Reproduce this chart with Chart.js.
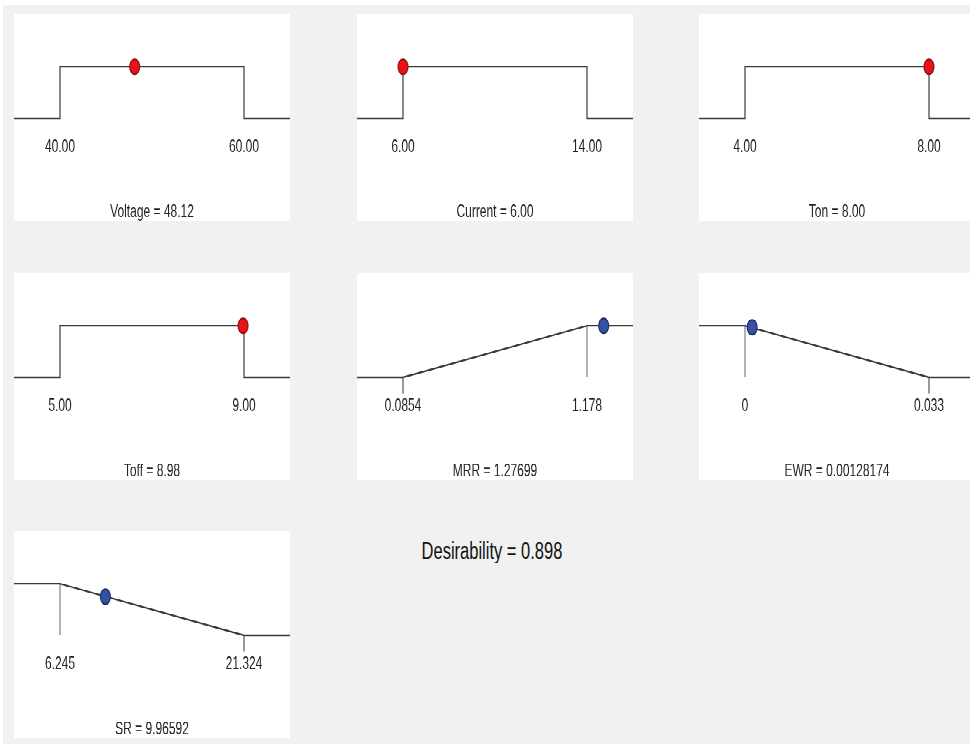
<!DOCTYPE html>
<html lang="en">

<head>
    <meta charset="UTF-8" />
    <title>Optimization plot - composite desirability</title>
    <script src="https://cdn.jsdelivr.net/npm/chart.js"></script>
    <style>
        html, body { margin: 0; padding: 0; }
        body { width: 970px; height: 744px; overflow: hidden; position: relative; background: #fff;
               font-family: "Liberation Sans", Arial, sans-serif; }
        #fondo { position: absolute; left: 3px; top: 5px; right: 0; bottom: 0; background: #f0f1f0; }
        /* the original figure is stretched vertically, so every panel is drawn flat and scaled */
        .panel { position: absolute; width: 276px; height: 138px; background: #fff;
                 transform: scaleY(1.5); transform-origin: 0 0; }
        #desirability { position: absolute; left: 392px; top: 536px; width: 200px; text-align: center;
                        font-size: 16.5px; line-height: 18px; color: #111;
                        transform: scaleY(1.5); transform-origin: 0 0; }
    </style>
</head>

<body>
    <div id="fondo"></div>
    <div id="desirability">Desirability = 0.898</div>

    <script>
        // one entry per panel: Voltage, Current, Ton, Toff, MRR, EWR, SR
        const names = ["Voltage", "Current", "Ton", "Toff", "MRR", "EWR", "SR"];
        const goals = ["range", "range", "range", "range", "max", "min", "min"];
        const lowLimits = [40, 6, 4, 5, 0.0854, 0, 6.245];
        const highLimits = [60, 14, 8, 9, 1.178, 0.033, 21.324];
        const lowLabels = ["40.00", "6.00", "4.00", "5.00", "0.0854", "0", "6.245"];
        const highLabels = ["60.00", "14.00", "8.00", "9.00", "1.178", "0.033", "21.324"];
        const settings = [48.12, 6.00, 8.00, 8.98, 1.27699, 0.00128174, 9.96592];
        const settingLabels = ["48.12", "6.00", "8.00", "8.98", "1.27699", "0.00128174", "9.96592"];
        const markerHeights = [1, 1, 1, 1, 1, 0.97, 0.75];

        const panelLeft = [14, 357, 699, 14, 357, 699, 14];
        const panelTop = [14, 14, 14, 273, 273, 273, 531];

        const yMin = -0.312, yMax = 2.02;

        function curve(i) {
            const lo = lowLimits[i], hi = highLimits[i];
            const pad = (hi - lo) / 4;
            const a = lo - pad, b = hi + pad;
            if (goals[i] === "range") {
                return { line: [{ x: a, y: 0 }, { x: lo, y: 0 }, { x: lo, y: 1 }, { x: hi, y: 1 }, { x: hi, y: 0 }, { x: b, y: 0 }] };
            }
            if (goals[i] === "max") {
                return {
                    line: [{ x: a, y: 0 }, { x: lo, y: 0 }, { x: hi, y: 1 }, { x: b, y: 1 }],
                    drop: [{ x: hi, y: 1 }, { x: hi, y: 0 }],
                    tick: [{ x: lo, y: 0 }, { x: lo, y: yMin }]
                };
            }
            return {
                line: [{ x: a, y: 1 }, { x: lo, y: 1 }, { x: hi, y: 0 }, { x: b, y: 0 }],
                drop: [{ x: lo, y: 1 }, { x: lo, y: 0 }],
                tick: [{ x: hi, y: 0 }, { x: hi, y: yMin }]
            };
        }

        function drawPanel(i) {
            const box = document.createElement("div");
            box.className = "panel";
            box.style.left = panelLeft[i] + "px";
            box.style.top = panelTop[i] + "px";
            const canvas = document.createElement("canvas");
            canvas.width = 276;
            canvas.height = 138;
            box.appendChild(canvas);
            document.body.appendChild(box);

            const lo = lowLimits[i], hi = highLimits[i];
            const pad = (hi - lo) / 4;
            const c = curve(i);
            const isFactor = i < 4;

            const datasets = [{
                data: [{ x: settings[i], y: markerHeights[i] }],
                showLine: false,
                pointRadius: 5,
                pointBackgroundColor: isFactor ? "#e8121b" : "#3451a3",
                pointBorderColor: isFactor ? "#8a1010" : "#1d2c63",
                pointBorderWidth: 1,
                clip: false
            }, {
                data: c.line,
                borderColor: "#3a3a3a",
                borderWidth: 1.2,
                pointRadius: 0,
                clip: false
            }];
            if (c.drop) {
                datasets.push({ data: c.drop, borderColor: "#666", borderWidth: 1, pointRadius: 0, clip: false });
                datasets.push({ data: c.tick, borderColor: "#333", borderWidth: 1, pointRadius: 0, clip: false });
            }

            new Chart(canvas, {
                type: "line",
                data: { datasets },
                options: {
                    responsive: false,
                    animation: false,
                    devicePixelRatio: 2,
                    layout: { padding: 0, autoPadding: false },
                    plugins: { legend: { display: false }, tooltip: { enabled: false } },
                    scales: {
                        x: {
                            type: "linear",
                            min: lo - pad,
                            max: hi + pad,
                            afterBuildTicks: (scale) => { scale.ticks = [{ value: lo }, { value: hi }]; },
                            ticks: {
                                autoSkip: false,
                                maxRotation: 0,
                                padding: 1.3,
                                color: "#222",
                                font: { family: "Liberation Sans", size: 12 },
                                callback: (v) => (v === lo ? lowLabels[i] : highLabels[i])
                            },
                            grid: { display: false, drawTicks: false },
                            border: { display: false },
                            title: {
                                display: true,
                                text: names[i] + " = " + settingLabels[i],
                                color: "#222",
                                font: { family: "Liberation Sans", size: 12, lineHeight: 1 },
                                padding: { top: 28.8, bottom: 0 }
                            }
                        },
                        y: { display: false, min: yMin, max: yMax }
                    }
                }
            });
        }

        names.forEach((_, i) => drawPanel(i));
    </script>
</body>

</html>
